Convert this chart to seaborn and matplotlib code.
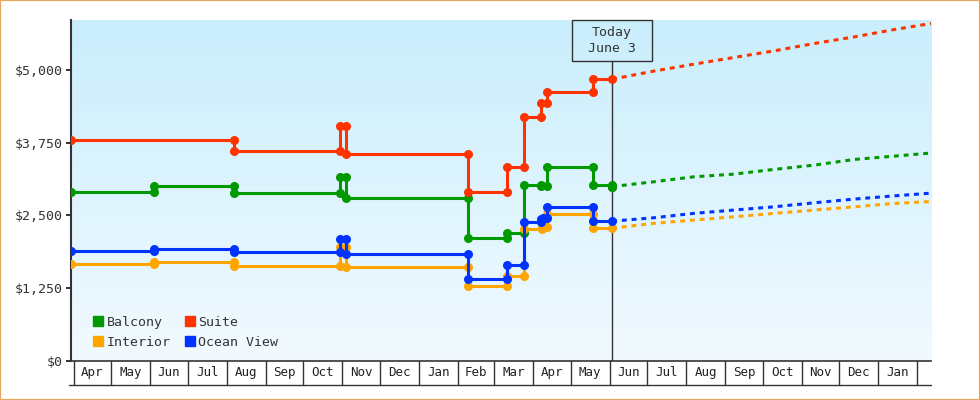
import numpy as np
import pandas as pd
import matplotlib
matplotlib.use("Agg")
import matplotlib.pyplot as plt
import matplotlib.patches as mpatches
import matplotlib.dates as mdates
import matplotlib.transforms as mtransforms
from matplotlib.colors import LinearSegmentedColormap
import seaborn as sns

sns.set_theme(style="white")
plt.rcParams["font.family"] = ["DejaVu Sans Mono", "DejaVu Sans"]

# ── Data ──────────────────────────────────────────────────────────────────────
start_date = "2023-03-30"
today = "2024-06-03"
axis_end = "2025-02-12"

# price history: starting price, then (change date, new price)
balcony_dates = ["2023-06-04", "2023-08-07", "2023-10-30", "2023-11-04", "2024-02-09",
                 "2024-03-11", "2024-03-25", "2024-04-07", "2024-04-12", "2024-05-19",
                 "2024-06-03"]
balcony_prices = [2895, 3008, 2877, 3163, 2802, 2104, 2200, 3015, 3010, 3335, 3030, 2995]

suite_dates = ["2023-08-07", "2023-10-30", "2023-11-04", "2024-02-09", "2024-03-11",
               "2024-03-25", "2024-04-07", "2024-04-12", "2024-05-19"]
suite_prices = [3794, 3615, 4034, 3550, 2895, 3340, 4184, 4425, 4628, 4842]

interior_dates = ["2023-06-04", "2023-08-07", "2023-10-30", "2023-11-04", "2024-02-09",
                  "2024-03-11", "2024-03-25", "2024-04-08", "2024-04-12", "2024-05-19"]
interior_prices = [1662, 1692, 1625, 1955, 1605, 1280, 1456, 2259, 2303, 2515, 2280]

ocean_dates = ["2023-06-04", "2023-08-07", "2023-10-30", "2023-11-04", "2024-02-09",
               "2024-03-11", "2024-03-25", "2024-04-07", "2024-04-09", "2024-04-12",
               "2024-05-19"]
ocean_prices = [1886, 1925, 1863, 2087, 1835, 1400, 1645, 2382, 2430, 2460, 2637, 2400]

# forecast from today onwards
forecast_dates = ["2024-06-03", "2024-07-06", "2024-08-07", "2024-09-08", "2024-10-10",
                  "2024-11-11", "2024-12-13", "2025-01-14", "2025-02-12"]
balcony_fc = [2995, 3077, 3163, 3209, 3290, 3364, 3462, 3519, 3572]
suite_fc = [4842, 4980, 5100, 5215, 5329, 5456, 5570, 5697, 5800]
interior_fc = [2280, 2362, 2419, 2475, 2534, 2591, 2647, 2705, 2738]
ocean_fc = [2400, 2458, 2534, 2591, 2647, 2716, 2780, 2836, 2882]

ytick_values = [0, 1250, 2500, 3750, 5000]
y_max = 5860

COLORS = {
    "Balcony": "#009900",
    "Suite": "#ff3300",
    "Interior": "#ffa500",
    "Ocean View": "#0033ff",
}
INK = "#333333"

series = [
    ("Balcony", balcony_dates, balcony_prices, balcony_fc),
    ("Interior", interior_dates, interior_prices, interior_fc),
    ("Suite", suite_dates, suite_prices, suite_fc),
    ("Ocean View", ocean_dates, ocean_prices, ocean_fc),
]


def step_points(dates, prices):
    """Corner points of a price history, one marker on each side of a change."""
    xs, ys = [start_date], [prices[0]]
    for d, p_old, p_new in zip(dates, prices[:-1], prices[1:]):
        xs += [d, d]
        ys += [p_old, p_new]
    xs.append(today)
    ys.append(prices[-1])
    return pd.to_datetime(xs), ys


# ── Figure ────────────────────────────────────────────────────────────────────
fig = plt.figure(figsize=(9.8, 4.0), dpi=100)
fig.patch.set_facecolor("white")
ax = fig.add_axes([71 / 980, 39.3 / 400, 860 / 980, 340.7 / 400])

bg = LinearSegmentedColormap.from_list("bg", ["#f2faff", "#c9eefc"])
ax.imshow(np.linspace(0, 1, 256).reshape(-1, 1), cmap=bg, aspect="auto",
          extent=(0, 1, 0, 1), transform=ax.transAxes, origin="lower", zorder=0)

for name, dates, prices, fc in series:
    xs, ys = step_points(dates, prices)
    sns.lineplot(x=xs, y=ys, estimator=None, sort=False, ax=ax,
                 color=COLORS[name], lw=2.2, marker="o", markersize=6.5,
                 markeredgewidth=0, zorder=3)
    sns.lineplot(x=pd.to_datetime(forecast_dates), y=fc, estimator=None, sort=False,
                 ax=ax, color=COLORS[name], lw=2.2, linestyle=(0, (1.6, 1.6)), zorder=3)

x0, x1 = pd.Timestamp(start_date), pd.Timestamp(axis_end)
ax.set_xlim(x0, x1)
ax.set_ylim(0, y_max)

# y axis
ax.set_yticks(ytick_values)
ax.set_yticklabels([f"${v:,}" for v in ytick_values])
ax.tick_params(axis="y", left=True, direction="out", length=3.6, width=1.4,
               color=INK, pad=2.2, labelsize=9.5, labelcolor=INK)
ax.tick_params(axis="x", bottom=False, labelbottom=False)
ax.set_xlabel("")
ax.set_ylabel("")
for side in ["top", "right"]:
    ax.spines[side].set_visible(False)
ax.spines["left"].set_color(INK)
ax.spines["left"].set_linewidth(1.5)
ax.spines["bottom"].set_color(INK)
ax.spines["bottom"].set_linewidth(1.2)

# month cells under the axis
blend = mtransforms.blended_transform_factory(ax.transData, ax.transAxes)
row_h = 24.3 / 340.7
months = pd.date_range("2023-04-01", axis_end, freq="MS")
for i, m in enumerate(months):
    ax.plot([m, m], [0, -row_h], transform=blend, color=INK, lw=1, clip_on=False)
    if i + 1 < len(months):
        mid = m + (months[i + 1] - m) / 2
        ax.text(mid, -row_h / 2, m.strftime("%b"), transform=blend, ha="center",
                va="center", fontsize=9, color="#222222")
ax.plot([-0.002, 1.0], [-row_h, -row_h], transform=ax.transAxes, color=INK, lw=1,
        clip_on=False)

# today marker
t = pd.Timestamp(today)
frac = (mdates.date2num(t) - mdates.date2num(x0)) / (mdates.date2num(x1) - mdates.date2num(x0))
box_w, box_h = 80 / 860, 40.7 / 340.7
ax.plot([t, t], [0, 1 - box_h], transform=blend, color=INK, lw=1, zorder=2)
ax.add_patch(mpatches.Rectangle((frac - box_w / 2, 1 - box_h), box_w, box_h,
                                transform=ax.transAxes, fill=False, ec=INK, lw=1,
                                zorder=5, clip_on=False))
ax.text(t, 1 - box_h / 2, "Today\nJune 3", transform=blend, ha="center", va="center",
        fontsize=9.5, color=INK, linespacing=1.3, zorder=6)

# legend, laid out row by row: Balcony Suite / Interior Ocean View
order = ["Balcony", "Interior", "Suite", "Ocean View"]
handles = [mpatches.Patch(color=COLORS[n], label=n) for n in order]
ax.legend(handles=handles, ncol=2, loc="lower left", bbox_to_anchor=(0.026, 0.035),
          frameon=False, fontsize=9.5, handlelength=0.75, handleheight=0.75,
          handletextpad=0.25, columnspacing=1.1, labelspacing=0.55, borderpad=0,
          borderaxespad=0, labelcolor=INK)

fig.add_artist(mpatches.Rectangle((0, 0), 1, 1, transform=fig.transFigure, fill=False,
                                  ec="#e8a862", lw=1.6))

fig.savefig("out.png", dpi=100)
plt.close()
